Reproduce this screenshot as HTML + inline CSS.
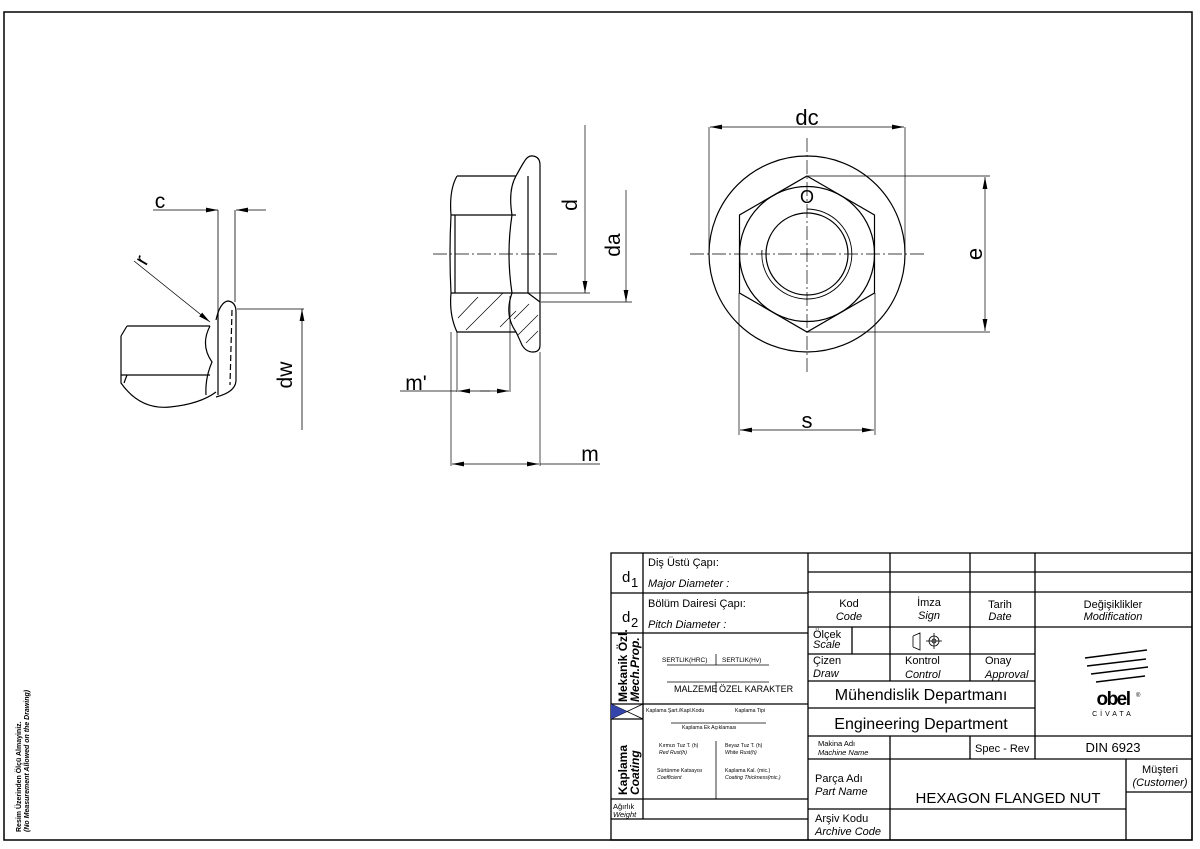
<!DOCTYPE html>
<html><head><meta charset="utf-8"><style>
html,body{margin:0;padding:0;background:#fff}
svg{display:block}
text{font-family:"Liberation Sans","DejaVu Sans",sans-serif;fill:#000}
</style></head><body>
<svg width="1200" height="849" viewBox="0 0 1200 849" xmlns="http://www.w3.org/2000/svg">
<defs>
<marker id="a" viewBox="0 0 10 4" refX="10" refY="2" markerWidth="12" markerHeight="5" markerUnits="userSpaceOnUse" orient="auto-start-reverse"><path d="M0,0 L10,2 L0,4z" fill="#000"/></marker>
</defs>
<rect x="4" y="12" width="1188" height="828" fill="none" stroke="#000" stroke-width="1.5"/>

<!-- LEFT VIEW -->
<g fill="none" stroke="#000" stroke-width="1.2">
<path d="M127,326 L210,326 M121,336 L127,326 M121,336 L121,383 Q140,410 170,407 Q200,404 216,392"/>
<path d="M121,375 L210,375 M124,383 L127,375"/>
<path d="M210,326 Q200,345 212,362 Q205,378 206,395"/>
<path d="M216,320 Q220,302 228,301 Q236,302 236,312 L236,380 Q236,392 216,397"/>
<path d="M218,312 L218,395"/>
<path d="M232,310 L230,385" stroke-dasharray="6,3"/>
</g>
<g stroke="#000" stroke-width="0.8" fill="none">
<line x1="218" y1="210" x2="218" y2="312"/><line x1="235" y1="210" x2="235" y2="302"/>
<line x1="153" y1="210" x2="218" y2="210" marker-end="url(#a)"/>
<line x1="266" y1="210" x2="236" y2="210" marker-end="url(#a)"/>
<line x1="134" y1="261" x2="210" y2="322" marker-end="url(#a)"/>
<line x1="237" y1="309" x2="304" y2="309"/>
<line x1="302" y1="430" x2="302" y2="309" marker-end="url(#a)"/>
</g>
<text x="160" y="208" font-size="21" text-anchor="middle">c</text>
<text x="145" y="265" font-size="21" text-anchor="middle" transform="rotate(-60 145 262)">r</text>
<text x="292" y="375" font-size="21" text-anchor="middle" transform="rotate(-90 292 375)">dw</text>

<!-- MIDDLE VIEW -->
<g fill="none" stroke="#000" stroke-width="1.2">
<path d="M457,176 L516,176 M457,176 Q449,190 451,215 Q449,254 451,293 Q449,315 457,332 L516,332"/>
<path d="M451,215 L516,215 M451,293 L528,293 M455,215 L455,293"/>
<path d="M516,176 Q508,190 512,215 Q506,254 512,293 Q504,315 516,332"/>
<path d="M516,176 Q522,165 524,162 Q528,155 533,156 Q540,157 540,165 L540,345 Q540,352 533,352 Q526,352 522,345 Q518,336 516,332"/>
<path d="M528,176 L528,293 M528,293 L540,302"/>
</g>
<g stroke="#000" stroke-width="0.7" fill="none">
<path d="M458,318 L478,297 M466,330 L503,293 M500,327 L516,311 M514,319 L529,304 M518,335 L538,315 M526,343 L538,331"/>
<line x1="433" y1="254" x2="560" y2="254" stroke-dasharray="14,3,2,3"/>
<line x1="528" y1="293" x2="590" y2="293"/>
<line x1="585" y1="125" x2="585" y2="293" marker-end="url(#a)"/>
<line x1="541" y1="302" x2="632" y2="302"/>
<line x1="626" y1="190" x2="626" y2="302" marker-end="url(#a)"/>
<line x1="457" y1="332" x2="457" y2="392"/><line x1="510" y1="296" x2="510" y2="392"/>
<line x1="400" y1="391" x2="457" y2="391"/>
<line x1="490" y1="391" x2="458" y2="391" marker-end="url(#a)"/>
<line x1="480" y1="391" x2="509" y2="391" marker-end="url(#a)"/>
<line x1="451" y1="332" x2="451" y2="466"/><line x1="540" y1="352" x2="540" y2="466"/>
<line x1="495" y1="464" x2="452" y2="464" marker-end="url(#a)"/>
<line x1="495" y1="464" x2="539" y2="464" marker-end="url(#a)"/>
<line x1="540" y1="464" x2="600" y2="464"/>
</g>
<text x="577" y="205" font-size="21" text-anchor="middle" transform="rotate(-90 577 205)">d</text>
<text x="620" y="245" font-size="21" text-anchor="middle" transform="rotate(-90 620 245)">da</text>
<text x="416" y="390" font-size="21" text-anchor="middle">m'</text>
<text x="590" y="461" font-size="21" text-anchor="middle">m</text>

<!-- RIGHT VIEW -->
<g fill="none" stroke="#000" stroke-width="1.2">
<circle cx="807" cy="254" r="98"/>
<polygon points="807,176 874.5,215 874.5,293 807,332 739.5,293 739.5,215"/>
<circle cx="807" cy="254" r="67.5"/>
<circle cx="807" cy="254" r="41"/>
<path d="M762,250 A45 45 0 1 0 807,209" stroke-width="0.9"/>
</g>
<g stroke="#000" stroke-width="0.7" fill="none">
<line x1="690" y1="254" x2="925" y2="254" stroke-dasharray="14,3,2,3"/>
<line x1="807" y1="138" x2="807" y2="372" stroke-dasharray="14,3,2,3"/>
<line x1="709" y1="127" x2="709" y2="254"/><line x1="905" y1="127" x2="905" y2="254"/>
<line x1="807" y1="127" x2="710" y2="127" marker-end="url(#a)"/>
<line x1="807" y1="127" x2="904" y2="127" marker-end="url(#a)"/>
<line x1="808" y1="176" x2="990" y2="176"/><line x1="808" y1="332" x2="990" y2="332"/>
<line x1="985" y1="254" x2="985" y2="177" marker-end="url(#a)"/>
<line x1="985" y1="254" x2="985" y2="331" marker-end="url(#a)"/>
<line x1="739" y1="293" x2="739" y2="435"/><line x1="875" y1="293" x2="875" y2="435"/>
<line x1="807" y1="430" x2="740" y2="430" marker-end="url(#a)"/>
<line x1="807" y1="430" x2="874" y2="430" marker-end="url(#a)"/>
</g>
<text x="807" y="125" font-size="22" text-anchor="middle">dc</text>
<text x="807" y="203" font-size="18" text-anchor="middle">O</text>
<text x="975" y="254" font-size="22" text-anchor="middle" transform="rotate(-90 975 254)" dy="7">e</text>
<text x="807" y="428" font-size="22" text-anchor="middle">s</text>

<!-- side note -->
<text transform="translate(21,832) rotate(-90)" font-size="7" font-weight="bold">Resim Üzerinden Ölçü Almayiniz.</text>
<text transform="translate(29,832) rotate(-90)" font-size="7" font-weight="bold" font-style="italic">(No Measurement Allowed on the Drawing)</text>

<!-- TITLE BLOCK -->
<g stroke="#000" stroke-width="1.3" fill="none">
<rect x="611" y="553" width="581" height="287"/>
<line x1="808" y1="553" x2="808" y2="840"/>
<line x1="643" y1="553" x2="643" y2="819"/>
<line x1="611" y1="593" x2="808" y2="593"/>
<line x1="611" y1="633" x2="808" y2="633"/>
<line x1="611" y1="704" x2="808" y2="704"/>
<line x1="611" y1="719" x2="643" y2="719"/>
<line x1="611" y1="799" x2="808" y2="799"/>
<line x1="611" y1="819" x2="808" y2="819"/>
<line x1="808" y1="572" x2="1192" y2="572"/>
<line x1="808" y1="592" x2="1192" y2="592"/>
<line x1="808" y1="627" x2="1192" y2="627"/>
<line x1="890" y1="553" x2="890" y2="681"/>
<line x1="970" y1="553" x2="970" y2="681"/>
<line x1="1035" y1="553" x2="1035" y2="759"/>
<line x1="852" y1="627" x2="852" y2="654"/>
<line x1="808" y1="654" x2="1035" y2="654"/>
<line x1="808" y1="681" x2="1035" y2="681"/>
<line x1="808" y1="708" x2="1035" y2="708"/>
<line x1="808" y1="736" x2="1192" y2="736"/>
<line x1="808" y1="759" x2="1192" y2="759"/>
<line x1="890" y1="736" x2="890" y2="840"/>
<line x1="970" y1="736" x2="970" y2="759"/>
<line x1="808" y1="809" x2="1126" y2="809"/>
<line x1="1126" y1="759" x2="1126" y2="840"/>
<line x1="1126" y1="792" x2="1192" y2="792"/>
</g>
<g stroke="#000" stroke-width="0.8" fill="none">
<line x1="611" y1="704" x2="643" y2="719"/><line x1="611" y1="719" x2="643" y2="704"/>
<line x1="667" y1="665" x2="769" y2="665"/><line x1="716" y1="654" x2="716" y2="665"/>
<line x1="667" y1="682" x2="769" y2="682"/><line x1="716" y1="682" x2="716" y2="693"/>
<line x1="671" y1="723" x2="766" y2="723"/>
<line x1="716" y1="741" x2="716" y2="799"/>
</g>
<polygon points="611,704 627,711.5 611,719" fill="#3344aa"/>
<g font-size="11">
<text x="622" y="582" font-size="15">d</text><text x="631" y="587" font-size="13">1</text>
<text x="622" y="622" font-size="15">d</text><text x="631" y="627" font-size="13">2</text>
<text x="648" y="566">Diş Üstü Çapı:</text>
<text x="648" y="587" font-style="italic">Major Diameter :</text>
<text x="648" y="607">Bölüm Dairesi Çapı:</text>
<text x="648" y="628" font-style="italic">Pitch Diameter :</text>
</g>
<text transform="translate(627,702) rotate(-90)" font-size="12" font-weight="bold">Mekanik Özl.</text>
<text transform="translate(639,702) rotate(-90)" font-size="12" font-weight="bold" font-style="italic">Mech.Prop.</text>
<text transform="translate(627,795) rotate(-90)" font-size="12" font-weight="bold">Kaplama</text>
<text transform="translate(639,795) rotate(-90)" font-size="12" font-weight="bold" font-style="italic">Coating</text>
<g font-size="6.5">
<text x="662" y="662">SERTLIK(HRC)</text><text x="722" y="662">SERTLIK(Hv)</text>
</g>
<text x="674" y="692" font-size="9">MALZEME</text><text x="719" y="692" font-size="9">ÖZEL KARAKTER</text>
<g font-size="5.2">
<text x="646" y="712">Kaplama Şart./Kapl.Kodu</text><text x="735" y="712">Kaplama Tipi</text>
<text x="682" y="729">Kaplama Ek Açıklaması</text>
<text x="659" y="747">Kırmızı Tuz T. (h)</text><text x="659" y="754" font-style="italic">Red Rust(h)</text>
<text x="725" y="747">Beyaz Tuz T. (h)</text><text x="725" y="754" font-style="italic">White Rust(h)</text>
<text x="657" y="772">Sürtünme Katsayısı</text><text x="657" y="779" font-style="italic">Coefficient</text>
<text x="725" y="772">Kaplama Kal. (mic.)</text><text x="725" y="779" font-style="italic">Coating Thickness(mic.)</text>
</g>
<text x="613" y="809" font-size="7.5">Ağırlık</text><text x="613" y="817" font-size="7.5" font-style="italic">Weight</text>
<g font-size="11" text-anchor="middle">
<text x="849" y="607">Kod</text><text x="849" y="620" font-style="italic">Code</text>
<text x="929" y="606">İmza</text><text x="929" y="619" font-style="italic">Sign</text>
<text x="1000" y="608">Tarih</text><text x="1000" y="620" font-style="italic">Date</text>
<text x="1113" y="608">Değişiklikler</text><text x="1113" y="620" font-style="italic">Modification</text>
</g>
<g font-size="11">
<text x="813" y="638">Ölçek</text><text x="813" y="648" font-style="italic">Scale</text>
<text x="813" y="664">Çizen</text><text x="813" y="677" font-style="italic">Draw</text>
<text x="905" y="664">Kontrol</text><text x="905" y="678" font-style="italic">Control</text>
<text x="985" y="664">Onay</text><text x="985" y="678" font-style="italic">Approval</text>
</g>
<g stroke="#000" stroke-width="0.8" fill="none">
<path d="M913,636 L913,647 M913,636 L920,633 L920,650 L913,647"/>
<circle cx="934" cy="641" r="5"/><circle cx="934" cy="641" r="2"/>
<line x1="926" y1="641" x2="942" y2="641"/><line x1="934" y1="633" x2="934" y2="649"/>
</g>
<text x="921" y="700" font-size="16" text-anchor="middle">Mühendislik Departmanı</text>
<text x="921" y="729" font-size="16" text-anchor="middle">Engineering Department</text>
<text x="818" y="746" font-size="7.5">Makina Adı</text><text x="818" y="755" font-size="7.5" font-style="italic">Machine Name</text>
<text x="975" y="752" font-size="11">Spec - Rev</text>
<text x="1113" y="752" font-size="13" text-anchor="middle">DIN 6923</text>
<text x="815" y="782" font-size="11">Parça Adı</text><text x="815" y="795" font-size="11" font-style="italic">Part Name</text>
<text x="1008" y="803" font-size="15" text-anchor="middle">HEXAGON FLANGED NUT</text>
<text x="1160" y="773" font-size="11" text-anchor="middle">Müşteri</text>
<text x="1160" y="786" font-size="11" text-anchor="middle" font-style="italic">(Customer)</text>
<text x="815" y="822" font-size="11">Arşiv Kodu</text><text x="815" y="835" font-size="11" font-style="italic">Archive Code</text>
<!-- logo -->
<g stroke="#000" stroke-width="1.5" fill="none">
<path d="M1085,658 L1147,650 M1087,666 L1146,659 M1091,674 L1148,667 M1096,682 L1145,676"/>
</g>
<text x="1113" y="705" font-size="19" text-anchor="middle" font-weight="bold" letter-spacing="-1.5">obel</text>
<text x="1136" y="697" font-size="6">®</text>
<text x="1113" y="716" font-size="7" text-anchor="middle" letter-spacing="3">CİVATA</text>
</svg>
</body></html>
